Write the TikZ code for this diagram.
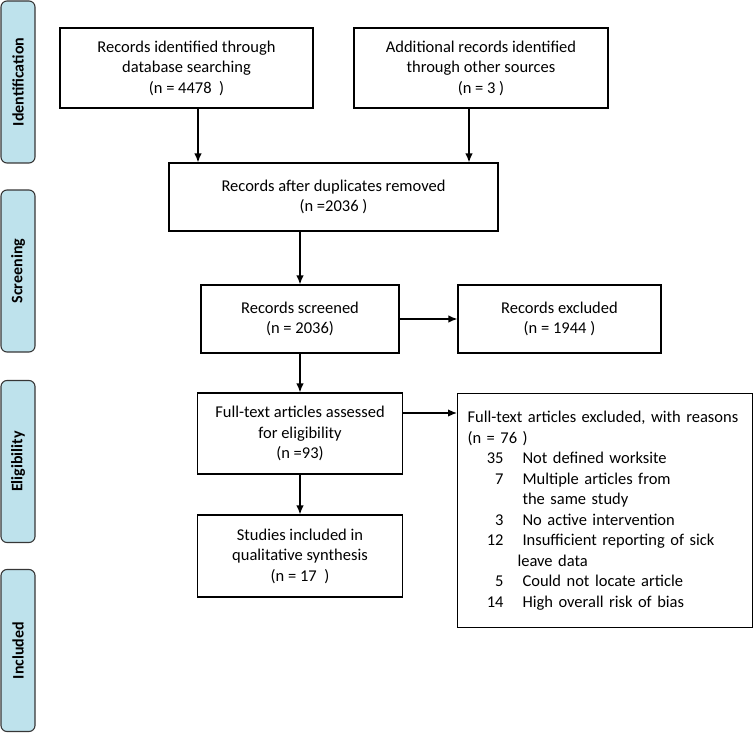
\documentclass[tikz,border=0pt]{standalone}
\usepackage{fontspec}
\setmainfont{Carlito}
\usetikzlibrary{positioning, arrows.meta}

\definecolor{phasefill}{RGB}{190,226,236}
\definecolor{phaseline}{RGB}{55,55,55}
\newcommand{\rsn}[2]{\makebox[36pt][r]{#1}\hspace{19pt}#2}

\tikzset{
  box/.style={draw, line width=1.1pt, align=center, inner sep=0pt},
  phase/.style={draw=phaseline, fill=phasefill, line width=1.1pt, rounded corners=6pt,
    rotate=90, minimum width=162pt, minimum height=34pt, inner sep=0pt,
    font=\fontsize{16}{19}\selectfont\bfseries},
  arr/.style={-{Latex[length=9pt,width=7.5pt]}, line width=1.4pt}
}

\begin{document}
\begin{tikzpicture}[x=1pt, y=-1pt, font=\fontsize{16.5}{20.5}\selectfont]
    \useasboundingbox (0,0) rectangle (755,733);

    % phases down the left side
    \node[phase] (ident) at (18,82) {Identification};
    \node[phase] (screen) at (18,271) {Screening};
    \node[phase] (elig) at (18,461.5) {Eligibility};
    \node[phase] (incl) at (18,650.5) {Included};

    % flow boxes
    \node[box, minimum width=253pt, minimum height=80pt] (dbrec) at (186.5,68)
        {Records identified through\\database searching\\(n = 4478~~)};
    \node[box, minimum width=254pt, minimum height=80pt] (other) at (481,68)
        {Additional records identified\\through other sources\\(n = 3 )};
    \node[box, minimum width=329pt, minimum height=68pt] (dedup) at (333.5,197)
        {Records after duplicates removed\\(n =2036 )};
    \node[box, minimum width=198pt, minimum height=68pt] (screened) at (300,319)
        {Records screened\\(n = 2036)};
    \node[box, minimum width=203pt, minimum height=68pt] (excl) at (559.5,319)
        {Records excluded\\(n = 1944 )};
    \node[box, minimum width=205pt, minimum height=81pt] (fulltext) at (300,433.5)
        {Full-text articles assessed\\for eligibility\\(n =93)};
    \node[box, minimum width=205pt, minimum height=82pt] (studies) at (300,556)
        {Studies included in\\qualitative synthesis\\(n = 17~~)};
    \node[box, anchor=north west, align=left, text width=275pt, inner xsep=10pt,
        minimum height=234pt] (reasons) at (457,393)
        {\makebox[275pt][s]{Full-text articles excluded, with reasons}\\
         (n = 76 )\\
         \rsn{35}{Not defined worksite}\\
         \rsn{7}{Multiple articles from}\\
         \hspace*{55pt}the same study\\
         \rsn{3}{No active intervention}\\
         \rsn{12}{Insufficient reporting of sick}\\
         \hspace*{50pt}leave data\\
         \rsn{5}{Could not locate article}\\
         \rsn{14}{High overall risk of bias}};

    % arrows
    \draw[arr] ([xshift=11.5pt]dbrec.south) -- ([xshift=11.5pt]dbrec.south |- dedup.north);
    \draw[arr] ([xshift=-12pt]other.south) -- ([xshift=-12pt]other.south |- dedup.north);
    \draw[arr] (dedup.south -| screened.north) -- (screened.north);
    \draw[arr] (screened.east) -- (excl.west);
    \draw[arr] (screened.south) -- (fulltext.north);
    \draw[arr] (fulltext.south) -- (studies.north);
    \draw[arr] ([yshift=20.5pt]fulltext.east) -- ([yshift=20.5pt]fulltext.east -| reasons.west);
\end{tikzpicture}
\end{document}
